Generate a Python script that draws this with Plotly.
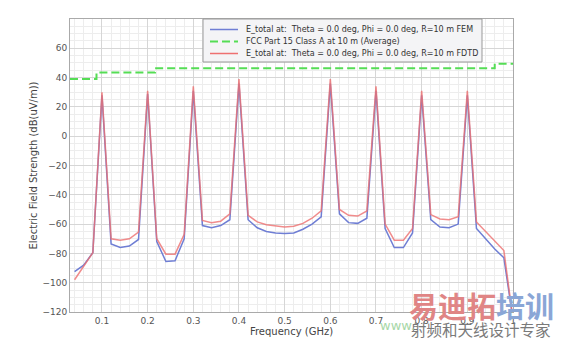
import plotly.graph_objects as go

freq = [0.04, 0.06, 0.08, 0.10, 0.12, 0.14, 0.16, 0.18, 0.20, 0.22,
        0.24, 0.26, 0.28, 0.30, 0.32, 0.34, 0.36, 0.38, 0.40, 0.42,
        0.44, 0.46, 0.48, 0.50, 0.52, 0.54, 0.56, 0.58, 0.60, 0.62,
        0.64, 0.66, 0.68, 0.70, 0.72, 0.74, 0.76, 0.78, 0.80, 0.82,
        0.84, 0.86, 0.88, 0.90, 0.92, 0.94, 0.96, 0.98, 1.00]

e_fem = [-92.5, -88, -79.5, 28, -73.5, -76, -75, -70.5, 29, -72,
         -85.5, -85, -70, 31, -61, -62.5, -61, -57, 36, -57,
         -62.5, -65, -66, -66.5, -66, -63.5, -60, -55, 36, -53,
         -59, -59.5, -56, 31, -63, -76, -76, -66, 28, -57,
         -62, -62.5, -60, 28, -63, -70, -77, -83, -125]

e_fdtd = [-98, -88.5, -79.5, 30, -70, -71, -70, -65.5, 31, -70,
          -80.5, -80.5, -67, 34, -57.5, -59, -58, -53, 39, -54,
          -58.5, -60.5, -61.5, -62, -61.5, -59.5, -56, -51, 39, -50,
          -54, -54.5, -51, 34, -60, -71, -71, -63, 31, -53.5,
          -56.5, -57, -55, 31, -58.5, -65, -72, -78, -125]

fcc_freq = [0.03, 0.088, 0.088, 0.216, 0.216, 0.96, 0.96, 1.0]
fcc_limit = [39, 39, 43.5, 43.5, 46.4, 46.4, 49.5, 49.5]

names = ["E_total at:  Theta = 0.0 deg, Phi = 0.0 deg, R=10 m FEM",
         "FCC Part 15 Class A at 10 m (Average)",
         "E_total at:  Theta = 0.0 deg, Phi = 0.0 deg, R=10 m FDTD"]
colors = ["#6f7ed4", "#55dd55", "#ee7070"]
dashes = ["solid", "8px,4px", "solid"]

fig = go.Figure()
fig.add_trace(go.Scatter(x=freq, y=e_fem, mode="lines", name=names[0],
                         line=dict(color=colors[0], width=1.5)))
fig.add_trace(go.Scatter(x=fcc_freq, y=fcc_limit, mode="lines", name=names[1],
                         line=dict(color=colors[1], width=2, dash=dashes[1])))
fig.add_trace(go.Scatter(x=freq, y=e_fdtd, mode="lines", name=names[2],
                         line=dict(color=colors[2], width=1.5), opacity=0.8))

grid_major = "#d6d6d6"
grid_minor = "#ededed"

# plot-area geometry in pixels (for the compact legend box)
L, R, T, B = 70, 513, 19, 312
W, H = R - L, B - T


def px_x(p):
    return (p - L) / W


def px_y(p):
    return (B - p) / H


fig.update_layout(
    width=562, height=340,
    margin=dict(l=L, r=562 - R, t=T, b=340 - B),
    paper_bgcolor="white", plot_bgcolor="white",
    font=dict(family="DejaVu Sans", size=9, color="#444"),
    showlegend=False,
    xaxis=dict(range=[0.03, 1.0], tick0=0, dtick=0.1, showgrid=True,
               gridcolor=grid_major, gridwidth=1, automargin=False,
               minor=dict(dtick=0.02, showgrid=True, gridcolor=grid_minor),
               showline=True, linecolor="#aaa", mirror=True, zeroline=False,
               ticks="", ticklabelstandoff=0, tickfont=dict(size=9, color="#555"),
               title=dict(text="Frequency (GHz)", standoff=2,
                          font=dict(size=10, color="#444"))),
    yaxis=dict(range=[-120, 80], showgrid=True, automargin=False,
               gridcolor=grid_major, gridwidth=1,
               tickvals=[-120, -100, -80, -60, -40, -20, 0, 20, 40, 60],
               minor=dict(dtick=5, showgrid=True, gridcolor=grid_minor),
               showline=True, linecolor="#aaa", mirror=True, zeroline=False,
               ticks="", tickfont=dict(size=9, color="#555"),
               title=dict(text="Electric Field Strength (dB(uV/m))", standoff=2,
                          font=dict(size=10, color="#444"))),
)

# compact legend box
fig.add_shape(type="rect", xref="paper", yref="paper",
              x0=px_x(203), x1=px_x(482), y0=px_y(62), y1=px_y(19),
              fillcolor="#f4f4f6", line=dict(color="#999", width=1), layer="above")
entry_y = [29.5, 41.5, 53.5]
for name, col, dsh, yy in zip(names, colors, dashes, entry_y):
    fig.add_shape(type="line", xref="paper", yref="paper",
                  x0=px_x(210), x1=px_x(238), y0=px_y(yy), y1=px_y(yy),
                  line=dict(color=col, width=1.5 if dsh == "solid" else 2, dash=dsh),
                  layer="above")
    fig.add_annotation(xref="paper", yref="paper", x=px_x(244), y=px_y(yy),
                       xanchor="left", yanchor="middle", showarrow=False,
                       text=name, font=dict(size=8, color="#333"))

# watermark text
fig.add_annotation(xref="paper", yref="paper", x=px_x(407), y=px_y(302),
                   xanchor="left", yanchor="middle", showarrow=False, yshift=-3,
                   text="<b><span style='color:#e08585'>易迪拓</span><span style='color:#8aa6d6'>培训</span></b>",
                   font=dict(family="Noto Sans CJK SC", size=29))
fig.add_annotation(xref="paper", yref="paper", x=px_x(410), y=px_y(328.5),
                   xanchor="left", yanchor="middle", showarrow=False,
                   borderpad=0,
                   text="射频和天线设计专家",
                   font=dict(family="Noto Sans CJK SC", size=15.5, color="#7a7a7a"))
fig.add_annotation(xref="paper", yref="paper", x=px_x(378), y=px_y(325),
                   xanchor="left", yanchor="middle", showarrow=False,
                   text="www.",
                   font=dict(family="DejaVu Sans", size=13, color="#a8d8a8"))

fig.write_html("out.html")
